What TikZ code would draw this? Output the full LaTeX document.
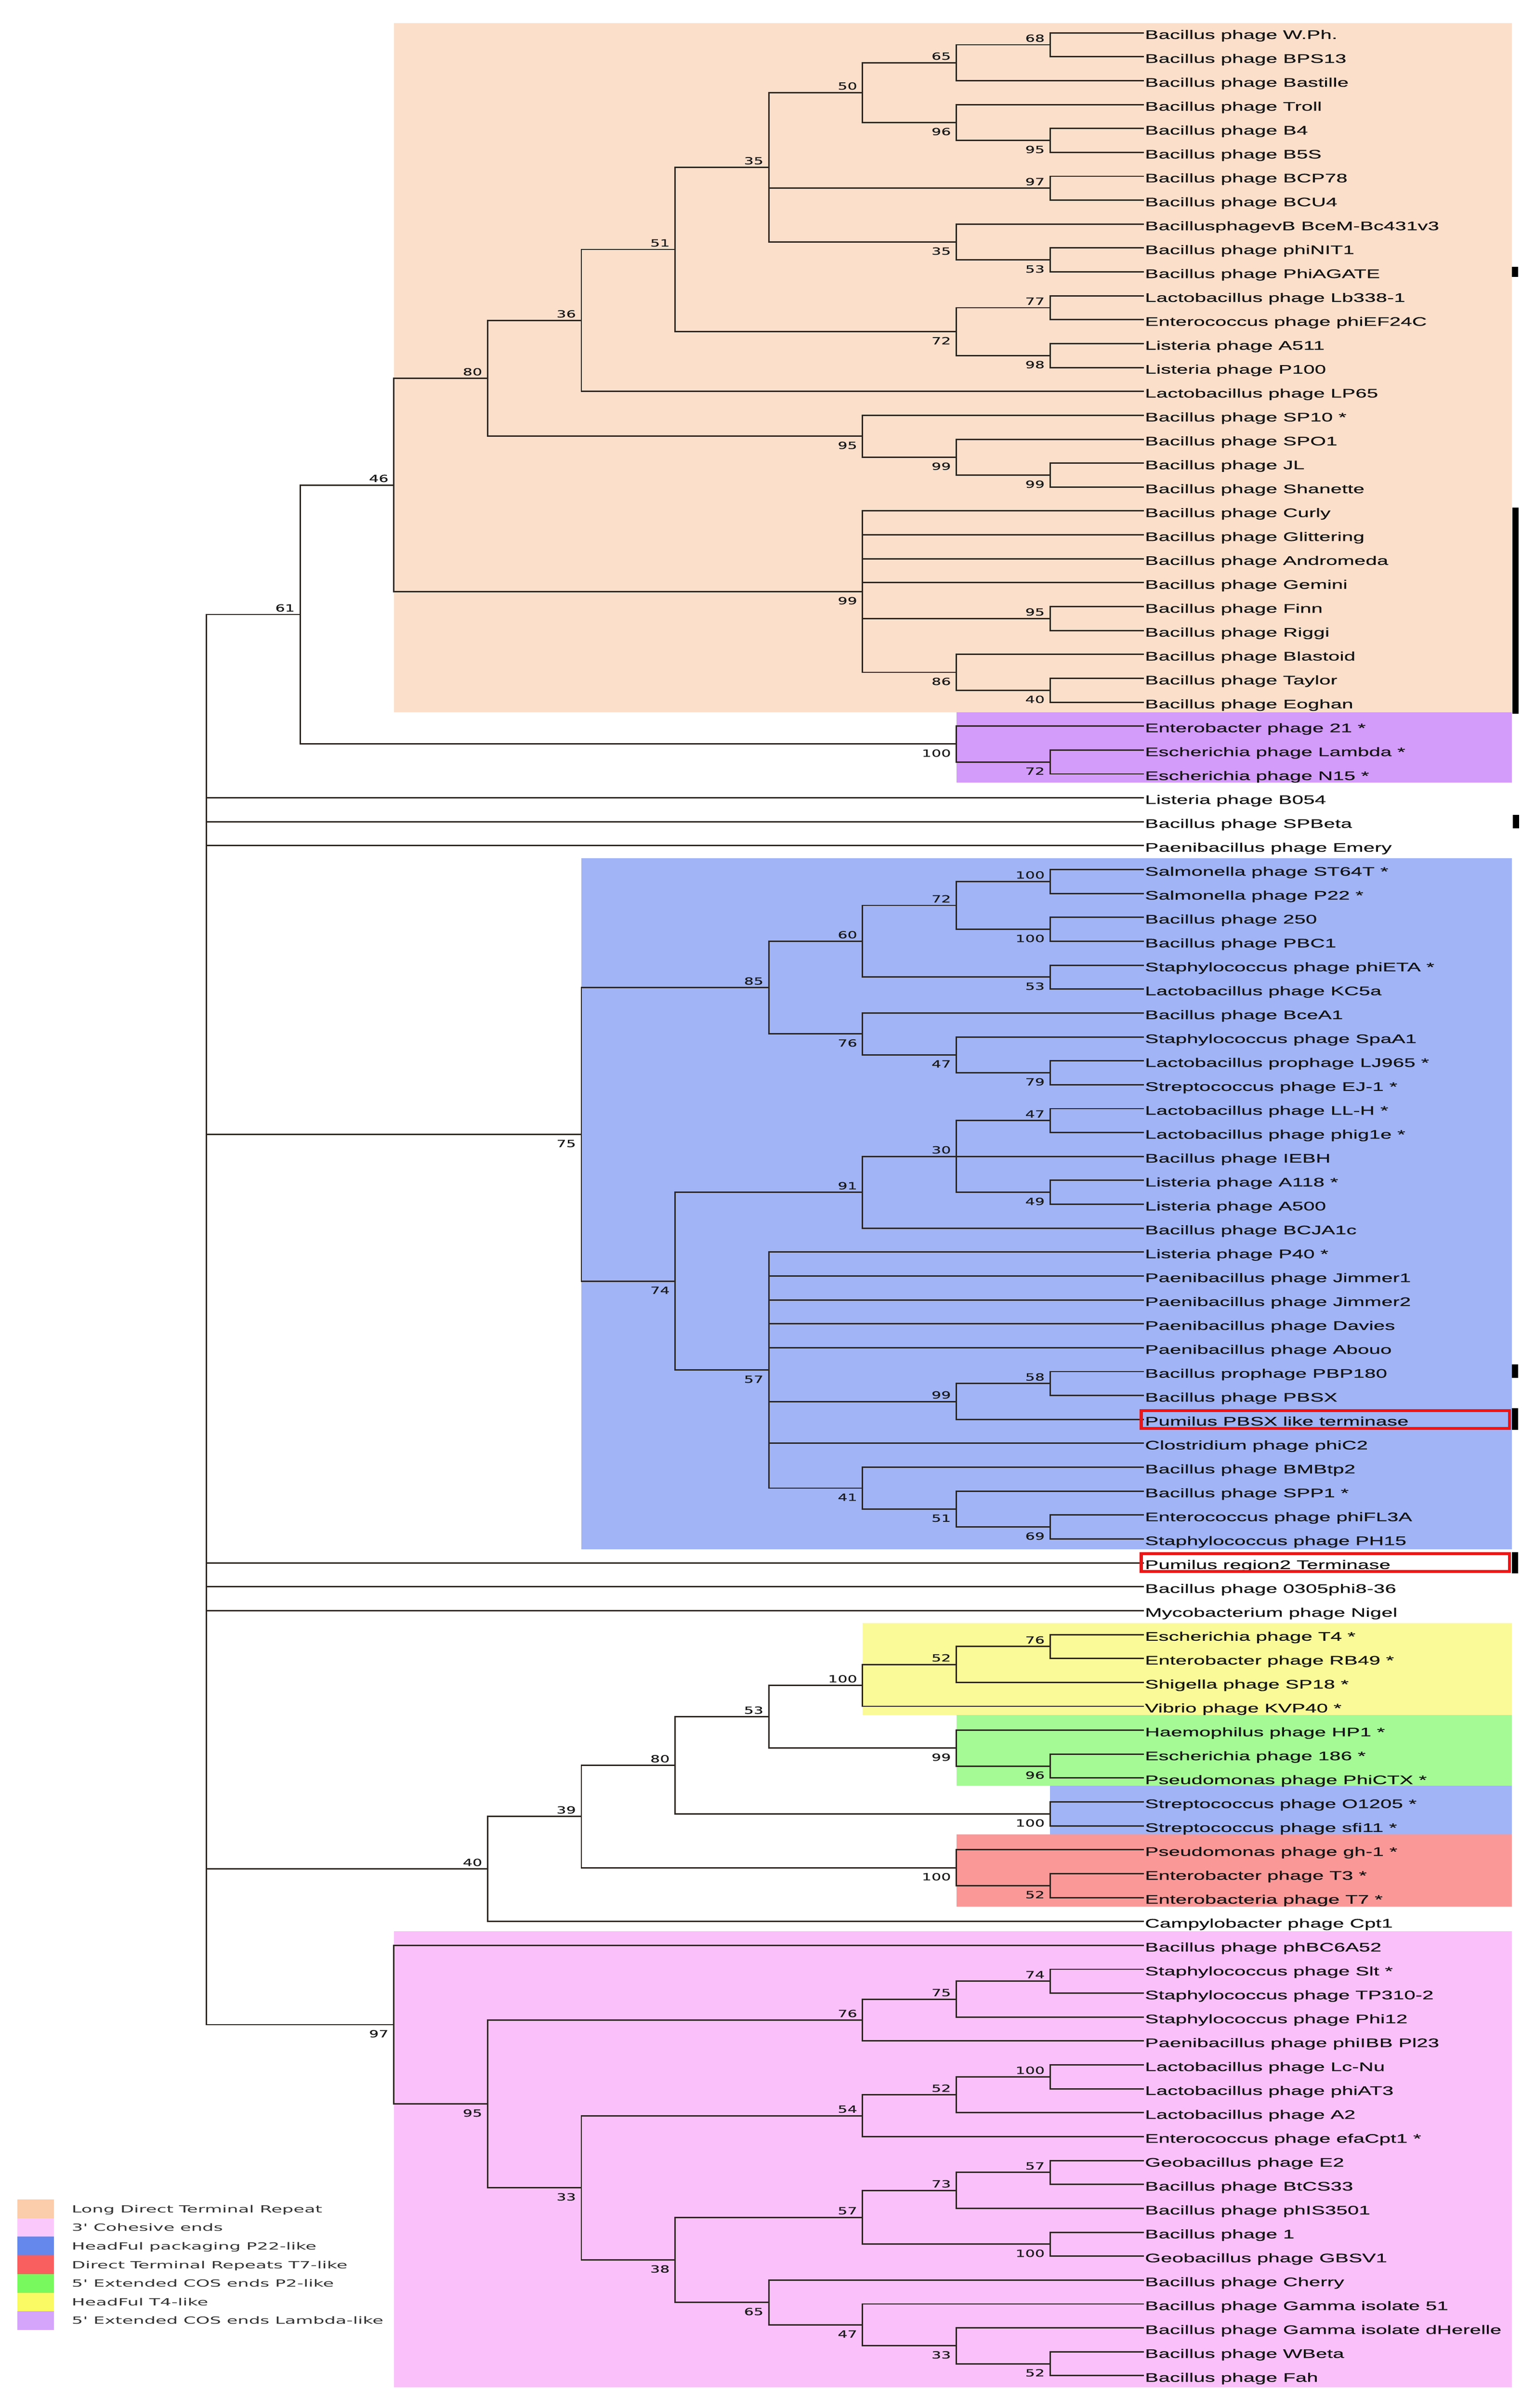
\documentclass[tikz,border=0pt]{standalone}
\usepackage{fontspec}
\newfontfamily\labfont[FakeStretch=1.64,FakeBold=0.45]{Liberation Sans}
\newfontfamily\numfont[FakeStretch=1.55,FakeBold=0.4]{DejaVu Sans}
\newfontfamily\legfont[FakeStretch=1.8,Ligatures=TeXOff]{DejaVu Sans}
\definecolor{bxOrange}{RGB}{252,223,203}
\definecolor{bxPurple}{RGB}{211,155,250}
\definecolor{bxBlue}{RGB}{160,180,246}
\definecolor{bxYellow}{RGB}{250,250,152}
\definecolor{bxGreen}{RGB}{165,250,150}
\definecolor{bxRed}{RGB}{250,152,152}
\definecolor{bxPink}{RGB}{250,192,250}
\definecolor{lgOrange}{RGB}{251,205,170}
\definecolor{lgPink}{RGB}{251,200,252}
\definecolor{lgBlue}{RGB}{100,136,235}
\definecolor{lgRed}{RGB}{250,95,95}
\definecolor{lgGreen}{RGB}{120,250,95}
\definecolor{lgYellow}{RGB}{250,250,100}
\definecolor{lgPurple}{RGB}{212,165,250}
\definecolor{hlRed}{RGB}{240,20,20}
\definecolor{brLine}{RGB}{45,38,32}
\newcommand\tkids[2]{\foreach \kk in {#2}{\draw[br] (#1) |- (\kk);}}
\newcommand\bootA[2]{\node[bs] (b#1) at ([xshift=-0.12cm,yshift=0.07cm]#1) {#2};}
\newcommand\bootB[2]{\node[bs] (b#1) at ([xshift=-0.12cm,yshift=-0.30cm]#1) {#2};}
\begin{document}
\begin{tikzpicture}[x=0.01cm, y=-0.5651cm,
  br/.style={line width=0.95pt, brLine},
  lab/.style={font={\labfont\fontsize{8.35pt}{10pt}\selectfont}, text=black!92, inner sep=0pt, anchor=base west, xshift=0.02cm, yshift=-0.145cm},
  bs/.style={font={\numfont\fontsize{6.63pt}{8pt}\selectfont}, text=black!90, inner sep=0pt, anchor=base east},
  leg/.style={font={\legfont\fontsize{6.63pt}{8pt}\selectfont}, text=black!80, inner sep=0pt, anchor=base west},
  pxs/.style={y=-0.01cm, yshift=0.2109cm},
  hlbox/.style={draw=hlRed, line width=2pt},
  bar/.style={fill=black},
]
\useasboundingbox (0,-0.3732) rectangle (3630,100.353);
\fill[white] (0,-0.3732) rectangle (3630,100.353);

% ---------- coloured group boxes (pixel scope) ----------
\begin{scope}[pxs]
\fill[bxOrange] (931.4,54.5) rectangle (3576,1685);
\fill[bxPurple] (2261.6,1685) rectangle (3576,1851);
\fill[bxBlue]   (1374.8,2030) rectangle (3576,3664);
\fill[bxYellow] (2039.9,3839) rectangle (3576,4056);
\fill[bxGreen]  (2261.6,4056) rectangle (3576,4223);
\fill[bxBlue]   (2483.3,4223) rectangle (3576,4339);
\fill[bxRed]    (2261.6,4339) rectangle (3576,4509);
\fill[bxPink]   (931.4,4567) rectangle (3576,5646);
\end{scope}

% ---------- leaf tips and labels ----------
\foreach \i in {1,...,99} \coordinate (t\i) at (2705,\i);
\foreach \i/\lbl in {
1/{Bacillus phage W.Ph.},2/{Bacillus phage BPS13},3/{Bacillus phage Bastille},4/{Bacillus phage Troll},
5/{Bacillus phage B4},6/{Bacillus phage B5S},7/{Bacillus phage BCP78},8/{Bacillus phage BCU4},
9/{BacillusphagevB BceM-Bc431v3},10/{Bacillus phage phiNIT1},11/{Bacillus phage PhiAGATE},
12/{Lactobacillus phage Lb338-1},13/{Enterococcus phage phiEF24C},14/{Listeria phage A511},
15/{Listeria phage P100},16/{Lactobacillus phage LP65},17/{Bacillus phage SP10 *},18/{Bacillus phage SPO1},
19/{Bacillus phage JL},20/{Bacillus phage Shanette},21/{Bacillus phage Curly},22/{Bacillus phage Glittering},
23/{Bacillus phage Andromeda},24/{Bacillus phage Gemini},25/{Bacillus phage Finn},26/{Bacillus phage Riggi},
27/{Bacillus phage Blastoid},28/{Bacillus phage Taylor},29/{Bacillus phage Eoghan},30/{Enterobacter phage 21 *},
31/{Escherichia phage Lambda *},32/{Escherichia phage N15 *},33/{Listeria phage B054},34/{Bacillus phage SPBeta},
35/{Paenibacillus phage Emery},36/{Salmonella phage ST64T *},37/{Salmonella phage P22 *},38/{Bacillus phage 250},
39/{Bacillus phage PBC1},40/{Staphylococcus phage phiETA *},41/{Lactobacillus phage KC5a},42/{Bacillus phage BceA1},
43/{Staphylococcus phage SpaA1},44/{Lactobacillus prophage LJ965 *},45/{Streptococcus phage EJ-1 *},
46/{Lactobacillus phage LL-H *},47/{Lactobacillus phage phig1e *},48/{Bacillus phage IEBH},49/{Listeria phage A118 *},
50/{Listeria phage A500},51/{Bacillus phage BCJA1c},52/{Listeria phage P40 *},53/{Paenibacillus phage Jimmer1},
54/{Paenibacillus phage Jimmer2},55/{Paenibacillus phage Davies},56/{Paenibacillus phage Abouo},
57/{Bacillus prophage PBP180},58/{Bacillus phage PBSX},59/{Pumilus PBSX like terminase},60/{Clostridium phage phiC2},
61/{Bacillus phage BMBtp2},62/{Bacillus phage SPP1 *},63/{Enterococcus phage phiFL3A},64/{Staphylococcus phage PH15},
65/{Pumilus region2 Terminase},66/{Bacillus phage 0305phi8-36},67/{Mycobacterium phage Nigel},
68/{Escherichia phage T4 *},69/{Enterobacter phage RB49 *},70/{Shigella phage SP18 *},71/{Vibrio phage KVP40 *},
72/{Haemophilus phage HP1 *},73/{Escherichia phage 186 *},74/{Pseudomonas phage PhiCTX *},
75/{Streptococcus phage O1205 *},76/{Streptococcus phage sfi11 *},77/{Pseudomonas phage gh-1 *},
78/{Enterobacter phage T3 *},79/{Enterobacteria phage T7 *},80/{Campylobacter phage Cpt1},
81/{Bacillus phage phBC6A52},82/{Staphylococcus phage Slt *},83/{Staphylococcus phage TP310-2},
84/{Staphylococcus phage Phi12},85/{Paenibacillus phage phiIBB Pl23},86/{Lactobacillus phage Lc-Nu},
87/{Lactobacillus phage phiAT3},88/{Lactobacillus phage A2},89/{Enterococcus phage efaCpt1 *},
90/{Geobacillus phage E2},91/{Bacillus phage BtCS33},92/{Bacillus phage phIS3501},93/{Bacillus phage 1},
94/{Geobacillus phage GBSV1},95/{Bacillus phage Cherry},96/{Bacillus phage Gamma isolate 51},
97/{Bacillus phage Gamma isolate dHerelle},98/{Bacillus phage WBeta},99/{Bacillus phage Fah}}
  \node[lab] (l\i) at (t\i) {\lbl};

% ---------- internal nodes ----------
% long direct terminal repeat clade
\coordinate (n68)  at (2483.3,1.5);
\coordinate (n65)  at (2261.6,2.25);
\coordinate (n95a) at (2483.3,5.5);
\coordinate (n96)  at (2261.6,4.75);
\coordinate (n50)  at (2039.9,3.5);
\coordinate (n97a) at (2483.3,7.5);
\coordinate (n53a) at (2483.3,10.5);
\coordinate (n35b) at (2261.6,9.75);
\coordinate (n35a) at (1818.2,6.625);
\coordinate (n77)  at (2483.3,12.5);
\coordinate (n98)  at (2483.3,14.5);
\coordinate (n72a) at (2261.6,13.5);
\coordinate (n51a) at (1596.5,10.0625);
\coordinate (n36)  at (1374.8,13.031);
\coordinate (n99b) at (2483.3,19.5);
\coordinate (n99a) at (2261.6,18.75);
\coordinate (n95b) at (2039.9,17.875);
\coordinate (n80a) at (1153.1,15.453);
\coordinate (n95c) at (2483.3,25.5);
\coordinate (n40a) at (2483.3,28.5);
\coordinate (n86)  at (2261.6,27.75);
\coordinate (n99c) at (2039.9,24.375);
\coordinate (n46)  at (931.4,19.914);
\coordinate (n72b) at (2483.3,31.5);
\coordinate (n100a) at (2261.6,30.75);
\coordinate (n61)  at (709.7,25.332);
% headful P22-like clade
\coordinate (n100b) at (2483.3,36.5);
\coordinate (n100c) at (2483.3,38.5);
\coordinate (n72c) at (2261.6,37.5);
\coordinate (n53b) at (2483.3,40.5);
\coordinate (n60)  at (2039.9,39.0);
\coordinate (n79)  at (2483.3,44.5);
\coordinate (n47a) at (2261.6,43.75);
\coordinate (n76a) at (2039.9,42.875);
\coordinate (n85)  at (1818.2,40.9375);
\coordinate (n47b) at (2483.3,46.5);
\coordinate (n49)  at (2483.3,49.5);
\coordinate (n30)  at (2261.6,48.0);
\coordinate (n91)  at (2039.9,49.5);
\coordinate (n58)  at (2483.3,57.5);
\coordinate (n99d) at (2261.6,58.25);
\coordinate (n69)  at (2483.3,63.5);
\coordinate (n51b) at (2261.6,62.75);
\coordinate (n41)  at (2039.9,61.875);
\coordinate (n57a) at (1818.2,56.9375);
\coordinate (n74a) at (1596.5,53.219);
\coordinate (n75a) at (1374.8,47.078);
% lower clade
\coordinate (n76b) at (2483.3,68.5);
\coordinate (n52a) at (2261.6,69.25);
\coordinate (n100d) at (2039.9,70.125);
\coordinate (n96b) at (2483.3,73.5);
\coordinate (n99e) at (2261.6,72.75);
\coordinate (n53c) at (1818.2,71.4375);
\coordinate (n100e) at (2483.3,75.5);
\coordinate (n80b) at (1596.5,73.469);
\coordinate (n52b) at (2483.3,78.5);
\coordinate (n100f) at (2261.6,77.75);
\coordinate (n39)  at (1374.8,75.609);
\coordinate (n40b) at (1153.1,77.805);
% 3' cohesive ends clade
\coordinate (n74b) at (2483.3,82.5);
\coordinate (n75b) at (2261.6,83.25);
\coordinate (n76c) at (2039.9,84.125);
\coordinate (n100g) at (2483.3,86.5);
\coordinate (n52c) at (2261.6,87.25);
\coordinate (n54)  at (2039.9,88.125);
\coordinate (n57b) at (2483.3,90.5);
\coordinate (n73)  at (2261.6,91.25);
\coordinate (n100h) at (2483.3,93.5);
\coordinate (n57c) at (2039.9,92.375);
\coordinate (n52d) at (2483.3,98.5);
\coordinate (n33a) at (2261.6,97.75);
\coordinate (n47c) at (2039.9,96.875);
\coordinate (n65b) at (1818.2,95.9375);
\coordinate (n38)  at (1596.5,94.156);
\coordinate (n33b) at (1374.8,91.141);
\coordinate (n95d) at (1153.1,87.633);
\coordinate (n97b) at (931.4,84.316);
\coordinate (root) at (488,54.824);

% ---------- branches ----------
\tkids{n68}{t1,t2}
\tkids{n65}{n68,t3}
\tkids{n95a}{t5,t6}
\tkids{n96}{t4,n95a}
\tkids{n50}{n65,n96}
\tkids{n97a}{t7,t8}
\tkids{n53a}{t10,t11}
\tkids{n35b}{t9,n53a}
\tkids{n35a}{n50,n97a,n35b}
\tkids{n77}{t12,t13}
\tkids{n98}{t14,t15}
\tkids{n72a}{n77,n98}
\tkids{n51a}{n35a,n72a}
\tkids{n36}{n51a,t16}
\tkids{n99b}{t19,t20}
\tkids{n99a}{t18,n99b}
\tkids{n95b}{t17,n99a}
\tkids{n80a}{n36,n95b}
\tkids{n95c}{t25,t26}
\tkids{n40a}{t28,t29}
\tkids{n86}{t27,n40a}
\tkids{n99c}{t21,t22,t23,t24,n95c,n86}
\tkids{n46}{n80a,n99c}
\tkids{n72b}{t31,t32}
\tkids{n100a}{t30,n72b}
\tkids{n61}{n46,n100a}
\tkids{n100b}{t36,t37}
\tkids{n100c}{t38,t39}
\tkids{n72c}{n100b,n100c}
\tkids{n53b}{t40,t41}
\tkids{n60}{n72c,n53b}
\tkids{n79}{t44,t45}
\tkids{n47a}{t43,n79}
\tkids{n76a}{t42,n47a}
\tkids{n85}{n60,n76a}
\tkids{n47b}{t46,t47}
\tkids{n49}{t49,t50}
\tkids{n30}{n47b,t48,n49}
\tkids{n91}{n30,t51}
\tkids{n58}{t57,t58}
\tkids{n99d}{n58,t59}
\tkids{n69}{t63,t64}
\tkids{n51b}{t62,n69}
\tkids{n41}{t61,n51b}
\tkids{n57a}{t52,t53,t54,t55,t56,n99d,t60,n41}
\tkids{n74a}{n91,n57a}
\tkids{n75a}{n85,n74a}
\tkids{n76b}{t68,t69}
\tkids{n52a}{n76b,t70}
\tkids{n100d}{n52a,t71}
\tkids{n96b}{t73,t74}
\tkids{n99e}{t72,n96b}
\tkids{n53c}{n100d,n99e}
\tkids{n100e}{t75,t76}
\tkids{n80b}{n53c,n100e}
\tkids{n52b}{t78,t79}
\tkids{n100f}{t77,n52b}
\tkids{n39}{n80b,n100f}
\tkids{n40b}{n39,t80}
\tkids{n74b}{t82,t83}
\tkids{n75b}{n74b,t84}
\tkids{n76c}{n75b,t85}
\tkids{n100g}{t86,t87}
\tkids{n52c}{n100g,t88}
\tkids{n54}{n52c,t89}
\tkids{n57b}{t90,t91}
\tkids{n73}{n57b,t92}
\tkids{n100h}{t93,t94}
\tkids{n57c}{n73,n100h}
\tkids{n52d}{t98,t99}
\tkids{n33a}{t97,n52d}
\tkids{n47c}{t96,n33a}
\tkids{n65b}{t95,n47c}
\tkids{n38}{n57c,n65b}
\tkids{n33b}{n54,n38}
\tkids{n95d}{n76c,n33b}
\tkids{n97b}{t81,n95d}
\tkids{root}{n61,t33,t34,t35,n75a,t65,t66,t67,n40b,n97b}

% ---------- bootstrap values ----------
\bootA{n68}{68}\bootA{n65}{65}\bootB{n95a}{95}\bootB{n96}{96}\bootA{n50}{50}
\bootA{n97a}{97}\bootB{n53a}{53}\bootB{n35b}{35}\bootA{n35a}{35}\bootA{n77}{77}
\bootB{n98}{98}\bootB{n72a}{72}\bootA{n51a}{51}\bootA{n36}{36}\bootB{n99b}{99}
\bootB{n99a}{99}\bootB{n95b}{95}\bootA{n80a}{80}\bootA{n95c}{95}\bootB{n40a}{40}
\bootB{n86}{86}\bootB{n99c}{99}\bootA{n46}{46}\bootB{n72b}{72}\bootB{n100a}{100}
\bootA{n61}{61}
\bootA{n100b}{100}\bootB{n100c}{100}\bootA{n72c}{72}\bootB{n53b}{53}\bootA{n60}{60}
\bootB{n79}{79}\bootB{n47a}{47}\bootB{n76a}{76}\bootA{n85}{85}\bootA{n47b}{47}
\bootB{n49}{49}\bootA{n30}{30}\bootA{n91}{91}\bootA{n58}{58}\bootA{n99d}{99}
\bootB{n69}{69}\bootB{n51b}{51}\bootB{n41}{41}\bootB{n57a}{57}\bootB{n74a}{74}
\bootB{n75a}{75}
\bootA{n76b}{76}\bootA{n52a}{52}\bootA{n100d}{100}\bootB{n96b}{96}\bootB{n99e}{99}
\bootA{n53c}{53}\bootB{n100e}{100}\bootA{n80b}{80}\bootB{n52b}{52}\bootB{n100f}{100}
\bootA{n39}{39}\bootA{n40b}{40}
\bootA{n74b}{74}\bootA{n75b}{75}\bootA{n76c}{76}\bootA{n100g}{100}\bootA{n52c}{52}
\bootA{n54}{54}\bootA{n57b}{57}\bootA{n73}{73}\bootB{n100h}{100}\bootA{n57c}{57}
\bootB{n52d}{52}\bootB{n33a}{33}\bootB{n47c}{47}\bootB{n65b}{65}\bootB{n38}{38}
\bootB{n33b}{33}\bootB{n95d}{95}\bootB{n97b}{97}

% ---------- highlight boxes, side bars, legend (pixel scope) ----------
\begin{scope}[pxs]
\draw[hlbox] (2699,3336.5) rectangle (3570,3378);
\draw[hlbox] (2699,3674.5) rectangle (3570,3716.5);
\fill[bar] (3576,631) rectangle (3590,655);
\fill[bar] (3577,1200) rectangle (3591,1688);
\fill[bar] (3578,1927) rectangle (3592,1959);
\fill[bar] (3576,3227) rectangle (3590,3259);
\fill[bar] (3576,3331) rectangle (3590,3382);
\fill[bar] (3576,3671) rectangle (3590,3721);
\foreach \k/\cc/\txt in {0/lgOrange/{Long Direct Terminal Repeat},1/lgPink/{3' Cohesive ends},
  2/lgBlue/{HeadFul packaging P22-like},3/lgRed/{Direct Terminal Repeats T7-like},
  4/lgGreen/{5' Extended COS ends P2-like},5/lgYellow/{HeadFul T4-like},
  6/lgPurple/{5' Extended COS ends Lambda-like}}{
  \fill[\cc] (41,{5202+44.1*\k}) rectangle (128,{5202+44.1*(\k+1)});
  \node[leg] (leg\k) at (169,{5233+44*\k}) {\txt};
}
\end{scope}
\end{tikzpicture}
\end{document}
